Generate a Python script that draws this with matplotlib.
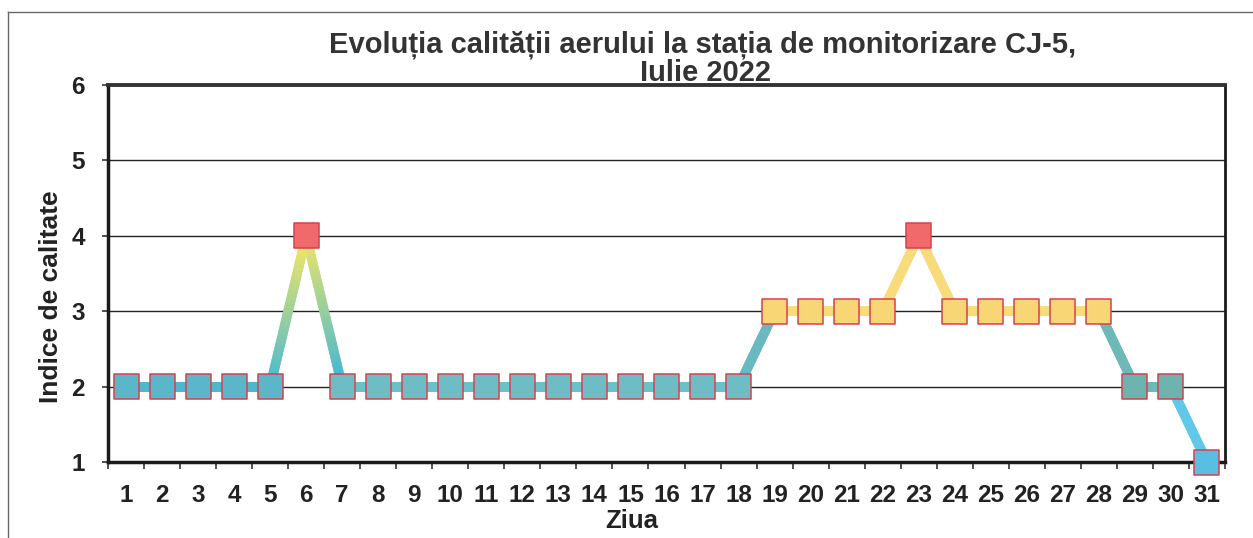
import matplotlib
matplotlib.use("Agg")
import matplotlib.pyplot as plt
import numpy as np
from matplotlib.collections import LineCollection
from matplotlib.colors import to_rgb

plt.rcParams['font.family'] = ['Liberation Sans', 'DejaVu Sans']

# ---- data ----
days = list(range(1, 32))
day_labels = [str(d) for d in days]
index_values = [2, 2, 2, 2, 2, 4, 2, 2, 2, 2, 2, 2, 2, 2, 2, 2, 2, 2,
                3, 3, 3, 3, 4, 3, 3, 3, 3, 3, 2, 2, 1]
title_line1 = "Evoluția calității aerului la stația de monitorizare CJ-5,"
title_line2 = "Iulie 2022"
ylabel = "Indice de calitate"
xlabel = "Ziua"

# ---- styles ----
marker_colors = (["#5ab6c8"] * 5 + ["#f0696b"] + ["#6ebdc4"] * 12 +
                 ["#f8d675"] * 4 + ["#f0696b"] + ["#f8d675"] * 5 +
                 ["#6db3ae"] * 2 + ["#58bfe2"])
# segment start/end colours (segment i joins day i and day i+1)
seg_colors = []
for i in range(30):
    if i < 4:
        c = ("#4fb6cc", "#4fb6cc")
    elif i == 4:
        c = ("#3fb7d8", "#f6e860")
    elif i == 5:
        c = ("#f6e860", "#3fb7d8")
    elif i < 17:
        c = ("#6cc1c8", "#6cc1c8")
    elif i == 17:
        c = ("#6ab8c0", "#6ab8c0")
    elif i < 27:
        c = ("#f8db7a", "#f8db7a")
    elif i < 29:
        c = ("#6fb8b8", "#6fb8b8")
    else:
        c = ("#62c8ea", "#62c8ea")
    seg_colors.append(c)

fig = plt.figure(figsize=(12.53, 5.38), dpi=100)
ax = fig.add_axes([108 / 1253, 1 - 462 / 538, (1225 - 108) / 1253, (462 - 85) / 538])

# gradient/segment line
segs, cols = [], []
n_sub = 40
for i in range(30):
    x0, x1 = days[i], days[i + 1]
    y0, y1 = index_values[i], index_values[i + 1]
    c0, c1 = np.array(to_rgb(seg_colors[i][0])), np.array(to_rgb(seg_colors[i][1]))
    ts = np.linspace(0, 1, n_sub + 1)
    for k in range(n_sub):
        t0, t1 = ts[k], ts[k + 1]
        segs.append([(x0 + (x1 - x0) * t0, y0 + (y1 - y0) * t0),
                     (x0 + (x1 - x0) * t1, y0 + (y1 - y0) * t1)])
        cols.append(c0 + (c1 - c0) * (t0 + t1) / 2)
lc = LineCollection(segs, colors=cols, linewidths=7, capstyle='round', zorder=3, clip_on=False)
ax.add_collection(lc)

ax.scatter(days, index_values, marker='s', s=18 ** 2, c=marker_colors,
           edgecolors="#d8404e", linewidths=1.1, zorder=4, clip_on=False)

ax.set_xlim(0.5, 31.5)
ax.set_ylim(1, 6)
ax.set_yticks([1, 2, 3, 4, 5, 6])
ax.set_yticklabels(["1", "2", "3", "4", "5", "6"], fontsize=17.5, fontweight='bold', color="#222222")
ax.set_xticks(days)
ax.set_xticklabels(day_labels, fontsize=17.5, fontweight='bold', color="#222222")
ax.set_xticks(np.arange(0.5, 32, 1), minor=True)
ax.tick_params(axis='x', which='major', length=0, pad=16)
ax.tick_params(axis='x', which='minor', length=5, width=1.2, direction='out', color="#333333")
ax.tick_params(axis='y', length=4.5, width=1.2, direction='out', pad=12, color="#333333")

for y in [2, 3, 4, 5]:
    ax.axhline(y, color="#222222", linewidth=1.0, zorder=1)

for s in ['left', 'bottom']:
    ax.spines[s].set_linewidth(2.5)
    ax.spines[s].set_color("#1a1a1a")
ax.spines['top'].set_linewidth(2.8)
ax.spines['top'].set_color("#333333")
ax.spines['right'].set_linewidth(2.0)
ax.spines['right'].set_color("#1a1a1a")

fig.text(703 / 1253, 1 - 45 / 538, title_line1, ha='center', va='center', fontsize=21,
         fontweight='bold', color="#333333")
fig.text(705 / 1253, 1 - 73 / 538, title_line2, ha='center', va='center', fontsize=21,
         fontweight='bold', color="#333333", zorder=0)
fig.text(51 / 1253, 1 - 297 / 538, ylabel, ha='center', va='center', rotation=90,
         fontsize=19, fontweight='bold', color="#222222")
fig.text(632 / 1253, 1 - 521 / 538, xlabel, ha='center', va='center',
         fontsize=18.5, fontweight='bold', color="#222222")

# outer frame (top and left edges visible)
fig.add_artist(plt.Line2D([8 / 1253, 1.0], [1 - 12 / 538, 1 - 12 / 538],
                          transform=fig.transFigure, color="#666666", linewidth=1.0))
fig.add_artist(plt.Line2D([8 / 1253, 8 / 1253], [0, 1 - 12 / 538],
                          transform=fig.transFigure, color="#666666", linewidth=1.0))

fig.savefig("out.png", dpi=100)
